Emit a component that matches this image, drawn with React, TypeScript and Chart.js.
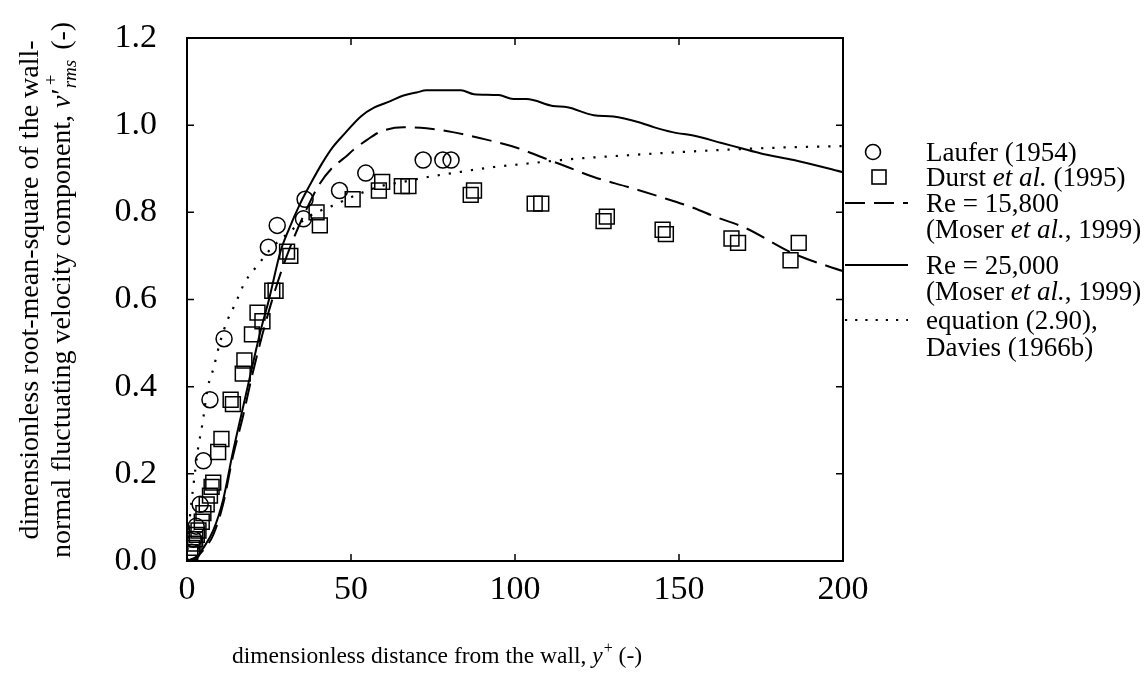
import React, { useEffect, useRef } from 'react';
import { Chart, registerables } from 'chart.js';

Chart.register(...registerables);

// ---------- data ----------
const xTickValues = [0, 50, 100, 150, 200];
const yTickValues = [0, 0.2, 0.4, 0.6, 0.8, 1.0, 1.2];

const lauferX = [1.5, 2, 2.8, 4, 5, 7, 11.3, 24.8, 27.5, 35.5, 36, 46.5, 54.5, 72, 78, 80.5];
const lauferY = [0.02, 0.05, 0.08, 0.13, 0.23, 0.37, 0.51, 0.72, 0.77, 0.785, 0.83, 0.85, 0.89, 0.92, 0.92, 0.92];

const durstX = [1, 1.5, 2, 2.5, 3, 3.5, 4.5, 5, 6, 7, 7.5, 8, 9.5, 10.5, 13.3, 14, 17, 17.5, 19.8, 21.5, 23, 26, 27, 30.5, 31.5, 39.5, 40.5, 50.5, 58.5, 59.5, 65.5, 67.5, 86.5, 87.5, 106, 108, 127, 128, 145, 146, 166, 168, 184, 186.5];
const durstY = [0.02, 0.03, 0.04, 0.05, 0.06, 0.07, 0.09, 0.11, 0.13, 0.15, 0.17, 0.18, 0.25, 0.28, 0.37, 0.36, 0.43, 0.46, 0.52, 0.57, 0.55, 0.62, 0.62, 0.71, 0.7, 0.8, 0.77, 0.83, 0.85, 0.87, 0.86, 0.86, 0.84, 0.85, 0.82, 0.82, 0.78, 0.79, 0.76, 0.75, 0.74, 0.73, 0.69, 0.73];

const re15800X = [0, 3, 5, 8, 11, 14, 17, 20, 23, 26, 29, 32.5, 36, 40, 44, 48, 51, 55, 59, 66, 73, 81, 89.5, 101, 108, 116, 124, 134.5, 144.5, 154.5, 161, 170, 185, 200];
const re15800Y = [0, 0.01, 0.025, 0.06, 0.13, 0.24, 0.33, 0.43, 0.52, 0.6, 0.67, 0.74, 0.8, 0.86, 0.9, 0.925, 0.945, 0.967, 0.985, 0.995, 0.993, 0.984, 0.97, 0.947, 0.927, 0.904, 0.881, 0.858, 0.835, 0.81, 0.79, 0.765, 0.705, 0.665];

const re25000X = [0, 3, 5, 8, 11, 14, 17, 20, 22.5, 25, 28.5, 31, 34.5, 38, 41, 44.5, 48, 53, 57, 62, 66, 70, 73, 83.5, 87.5, 95, 99.5, 103.5, 111.5, 116, 124, 130, 138.5, 142.5, 148, 155, 163, 169, 175, 185, 200];
const re25000Y = [0, 0.01, 0.03, 0.07, 0.14, 0.25, 0.35, 0.45, 0.53, 0.6, 0.71, 0.76, 0.82, 0.87, 0.91, 0.95, 0.98, 1.02, 1.04, 1.055, 1.068, 1.075, 1.08, 1.08, 1.071, 1.069, 1.06, 1.06, 1.044, 1.041, 1.023, 1.02, 1.005, 0.995, 0.984, 0.975, 0.959, 0.947, 0.935, 0.92, 0.892];

const daviesX = [0, 0.5, 1, 1.9, 3.4, 4.6, 6.4, 8, 10, 12.2, 14.7, 17.7, 21.7, 26, 30.5, 37, 44.6, 53, 59, 66, 73.4, 83.5, 93.6, 104, 114, 124, 134.5, 145, 154.7, 165, 175, 187, 200];
const daviesY = [0, 0.07, 0.11, 0.17, 0.26, 0.31, 0.4, 0.44, 0.5, 0.55, 0.59, 0.64, 0.68, 0.72, 0.75, 0.79, 0.816, 0.844, 0.86, 0.87, 0.881, 0.893, 0.904, 0.912, 0.92, 0.926, 0.931, 0.936, 0.94, 0.944, 0.947, 0.95, 0.952];

const zip = (xs: number[], ys: number[]) => xs.map((x, i) => ({ x, y: ys[i] }));

const FAMILY = '"Liberation Serif", "Times New Roman", serif';
const font = (size: number, italic = false) => `${italic ? 'italic ' : ''}${size}px ${FAMILY}`;

type Seg = { t: string; italic?: boolean; size?: number; dy?: number; dx?: number; noAdvance?: boolean };

function drawSegs(ctx: CanvasRenderingContext2D, segs: Seg[], x: number, y: number, base = 27) {
  let cx = x;
  for (const s of segs) {
    ctx.font = font(s.size ?? base, !!s.italic);
    ctx.fillText(s.t, cx + (s.dx ?? 0), y + (s.dy ?? 0));
    if (!s.noAdvance) cx += ctx.measureText(s.t).width + (s.dx ?? 0);
  }
}

function segsWidth(ctx: CanvasRenderingContext2D, segs: Seg[], base = 27) {
  let w = 0;
  for (const s of segs) {
    ctx.font = font(s.size ?? base, !!s.italic);
    if (!s.noAdvance) w += ctx.measureText(s.t).width + (s.dx ?? 0);
  }
  return w;
}

const decorPlugin = {
  id: 'decor',
  afterDraw(chart: any) {
    const ctx: CanvasRenderingContext2D = chart.ctx;
    const { left, right, top, bottom } = chart.chartArea;
    const xs = chart.scales.x;
    const ys = chart.scales.y;
    ctx.save();
    ctx.strokeStyle = '#000';
    ctx.fillStyle = '#000';
    // frame
    ctx.lineWidth = 2;
    ctx.setLineDash([]);
    ctx.strokeRect(left, top, right - left, bottom - top);
    // inward ticks
    ctx.lineWidth = 1.5;
    ctx.beginPath();
    xTickValues.forEach((v) => {
      const px = xs.getPixelForValue(v);
      ctx.moveTo(px, bottom);
      ctx.lineTo(px, bottom - 7);
      ctx.moveTo(px, top);
      ctx.lineTo(px, top + 7);
    });
    yTickValues.forEach((v) => {
      const py = ys.getPixelForValue(v);
      ctx.moveTo(left, py);
      ctx.lineTo(left + 7, py);
      ctx.moveTo(right, py);
      ctx.lineTo(right - 7, py);
    });
    ctx.stroke();

    // x title
    ctx.textBaseline = 'alphabetic';
    ctx.textAlign = 'left';
    const xBase = 23.5;
    const xTitle: Seg[] = [
      { t: 'dimensionless distance from the wall, ' },
      { t: 'y', italic: true },
      { t: '+', size: 16, dy: -10, dx: 1 },
      { t: ' (-)' },
    ];
    drawSegs(ctx, xTitle, 232, 663, xBase);

    // y title (rotated)
    const yBase = 28;
    const yLine1: Seg[] = [{ t: 'dimensionless root-mean-square of the wall-' }];
    const yLine2: Seg[] = [
      { t: 'normal fluctuating velocity component, ' },
      { t: 'v', italic: true },
      { t: '\u2032', dx: 1 },
      { t: '+', size: 19, dy: -13, dx: 3, noAdvance: true },
      { t: 'rms', italic: true, size: 19, dy: 6 },
      { t: ' (-)', dx: 3 },
    ];
    const cy = 290;
    ctx.save();
    ctx.translate(38, cy);
    ctx.rotate(-Math.PI / 2);
    const w1 = segsWidth(ctx, yLine1, yBase);
    drawSegs(ctx, yLine1, -w1 / 2, 0, yBase);
    ctx.restore();
    ctx.save();
    ctx.translate(70, cy);
    ctx.rotate(-Math.PI / 2);
    const w2 = segsWidth(ctx, yLine2, yBase);
    drawSegs(ctx, yLine2, -w2 / 2, 0, yBase);
    ctx.restore();

    // legend
    const tx = 926;
    const lx0 = 845;
    const lx1 = 908;
    const rowsY = [152, 177, 203, 229, 265, 291, 320, 347];
    ctx.lineWidth = 1.6;
    ctx.setLineDash([]);
    ctx.beginPath();
    ctx.arc(873, rowsY[0], 7.5, 0, Math.PI * 2);
    ctx.stroke();
    ctx.strokeRect(872, rowsY[1] - 7, 14, 14);
    ctx.lineWidth = 2;
    ctx.setLineDash([20, 9]);
    ctx.beginPath();
    ctx.moveTo(lx0, rowsY[2]);
    ctx.lineTo(lx1, rowsY[2]);
    ctx.stroke();
    ctx.setLineDash([]);
    ctx.beginPath();
    ctx.moveTo(lx0, rowsY[4]);
    ctx.lineTo(lx1, rowsY[4]);
    ctx.stroke();
    ctx.setLineDash([2.2, 8]);
    ctx.beginPath();
    ctx.moveTo(lx0, rowsY[6]);
    ctx.lineTo(lx1, rowsY[6]);
    ctx.stroke();
    ctx.setLineDash([]);

    const rows: Seg[][] = [
      [{ t: 'Laufer (1954)' }],
      [{ t: 'Durst ' }, { t: 'et al.', italic: true }, { t: ' (1995)' }],
      [{ t: 'Re = 15,800' }],
      [{ t: '(Moser ' }, { t: 'et al.', italic: true }, { t: ', 1999)' }],
      [{ t: 'Re = 25,000' }],
      [{ t: '(Moser ' }, { t: 'et al.', italic: true }, { t: ', 1999)' }],
      [{ t: 'equation (2.90),' }],
      [{ t: 'Davies (1966b)' }],
    ];
    rows.forEach((segs, i) => drawSegs(ctx, segs, tx, rowsY[i] + 9, 27));
    ctx.restore();
  },
};

export default function App() {
  const ref = useRef<HTMLCanvasElement | null>(null);
  useEffect(() => {
    if (!ref.current) return;
    const chart = new Chart(ref.current, {
      type: 'scatter',
      data: {
        datasets: [
          {
            label: 'Re = 25,000 (Moser et al., 1999)',
            data: zip(re25000X, re25000Y),
            showLine: true,
            borderColor: '#000',
            borderWidth: 2,
            pointRadius: 0,
            cubicInterpolationMode: 'monotone',
          },
          {
            label: 'Re = 15,800 (Moser et al., 1999)',
            data: zip(re15800X, re15800Y),
            showLine: true,
            borderColor: '#000',
            borderWidth: 2,
            borderDash: [20, 9],
            pointRadius: 0,
            cubicInterpolationMode: 'monotone',
          },
          {
            label: 'equation (2.90), Davies (1966b)',
            data: zip(daviesX, daviesY),
            showLine: true,
            borderColor: '#000',
            borderWidth: 2.2,
            borderDash: [2.2, 9],
            pointRadius: 0,
            cubicInterpolationMode: 'monotone',
          },
          {
            label: 'Laufer (1954)',
            data: zip(lauferX, lauferY),
            showLine: false,
            pointStyle: 'circle',
            pointRadius: 8,
            borderColor: '#000',
            backgroundColor: 'rgba(0,0,0,0)',
            borderWidth: 1.5,
          },
          {
            label: 'Durst et al. (1995)',
            data: zip(durstX, durstY),
            showLine: false,
            pointStyle: 'rect',
            pointRadius: 10.5,
            borderColor: '#000',
            backgroundColor: 'rgba(0,0,0,0)',
            borderWidth: 1.5,
          },
        ],
      },
      options: {
        animation: false,
        responsive: false,
        maintainAspectRatio: false,
        events: [],
        layout: { padding: { left: 0, right: 305, top: 38, bottom: 0 } },
        plugins: { legend: { display: false }, tooltip: { enabled: false } },
        scales: {
          x: {
            type: 'linear',
            min: 0,
            max: 200,
            afterBuildTicks: (s: any) => {
              s.ticks = xTickValues.map((v) => ({ value: v }));
            },
            afterFit: (s: any) => {
              s.height = 115;
              s.paddingLeft = 0;
              s.paddingRight = 0;
            },
            grid: { display: false },
            border: { display: false },
            ticks: {
              padding: 1,
              color: '#000',
              font: { family: FAMILY, size: 34 },
              maxRotation: 0,
              autoSkip: false,
              callback: (v: any) => String(v),
            },
          },
          y: {
            type: 'linear',
            min: 0,
            max: 1.2,
            afterBuildTicks: (s: any) => {
              s.ticks = yTickValues.map((v) => ({ value: v }));
            },
            afterFit: (s: any) => {
              s.width = 187;
              s.paddingTop = 0;
              s.paddingBottom = 0;
            },
            grid: { display: false },
            border: { display: false },
            ticks: {
              padding: 22,
              color: '#000',
              font: { family: FAMILY, size: 34 },
              autoSkip: false,
              callback: (v: any) => Number(v).toFixed(1),
            },
          },
        },
      },
      plugins: [decorPlugin],
    } as any);
    return () => chart.destroy();
  }, []);
  return (
    <div style={{ position: 'fixed', left: 0, top: 0, width: 1148, height: 676, background: '#fff' }}>
      <canvas ref={ref} width={1148} height={676} style={{ width: 1148, height: 676, display: 'block' }} />
    </div>
  );
}
